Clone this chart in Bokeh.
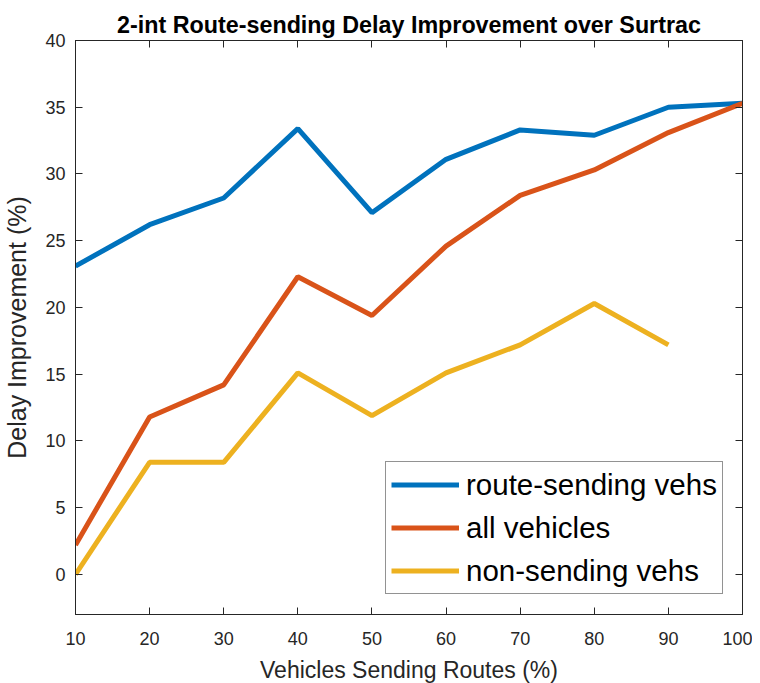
from bokeh.plotting import figure
from bokeh.models import Range1d, LinearAxis, FixedTicker, CustomJSTickFormatter, Legend
from bokeh.embed import file_html
from bokeh.resources import INLINE

x_pct = [10, 20, 30, 40, 50, 60, 70, 80, 90, 100]
route_sending = [23.1, 26.2, 28.2, 33.4, 27.1, 31.1, 33.3, 32.9, 35.0, 35.3]
all_vehicles = [2.2, 11.8, 14.2, 22.3, 19.4, 24.6, 28.4, 30.3, 33.1, 35.3]
x_non = [10, 20, 30, 40, 50, 60, 70, 80, 90]
non_sending = [0.0, 8.4, 8.4, 15.1, 11.9, 15.1, 17.2, 20.3, 17.2]
x_ticks = [10, 20, 30, 40, 50, 60, 70, 80, 90, 100]
y_ticks = [0, 5, 10, 15, 20, 25, 30, 35, 40]

FONT = "Liberation Sans"
GRAY = "#262626"

p = figure(frame_width=667, frame_height=574,
           x_range=Range1d(10, 100), y_range=Range1d(-3, 40),
           output_backend="svg", toolbar_location=None,
           min_border_left=68, min_border_top=40, min_border_right=10, min_border_bottom=55,
           title="2-int Route-sending Delay Improvement over Surtrac")
p.background_fill_color = "white"
p.border_fill_color = "white"
p.grid.visible = False
p.outline_line_color = GRAY
p.outline_line_width = 1

p.title.align = "center"
p.title.text_font = FONT
p.title.text_font_size = "23.3px"
p.title.text_font_style = "bold"
p.title.text_color = "black"
p.title.offset = 0
p.title.standoff = 5

for ax in (p.xaxis[0], p.yaxis[0]):
    ax.major_tick_in = 7
    ax.major_tick_out = 0
    ax.minor_tick_in = 0
    ax.minor_tick_out = 0
    ax.axis_line_color = GRAY
    ax.major_tick_line_color = GRAY
    ax.major_label_text_font = FONT
    ax.major_label_text_font_size = "18px"
    ax.major_label_text_color = GRAY
    ax.axis_label_text_font = FONT
    ax.axis_label_text_font_style = "normal"
    ax.axis_label_text_color = GRAY

p.xaxis[0].ticker = FixedTicker(ticks=x_ticks)
p.yaxis[0].ticker = FixedTicker(ticks=y_ticks)
p.xaxis[0].axis_label = "Vehicles Sending Routes (%)"
p.yaxis[0].axis_label = "Delay Improvement (%)"
p.xaxis[0].axis_label_text_font_size = "23px"
p.yaxis[0].axis_label_text_font_size = "25px"
p.xaxis[0].major_label_standoff = 17
p.yaxis[0].major_label_standoff = 10
p.xaxis[0].axis_label_standoff = 9
p.yaxis[0].axis_label_standoff = 11

blank = CustomJSTickFormatter(code="return ''")
top = LinearAxis(ticker=FixedTicker(ticks=x_ticks), formatter=blank,
                 major_tick_in=7, major_tick_out=0, minor_tick_in=0, minor_tick_out=0,
                 axis_line_color=GRAY, major_tick_line_color=GRAY,
                 major_label_text_font_size="1px", major_label_standoff=0)
right = LinearAxis(ticker=FixedTicker(ticks=y_ticks), formatter=blank,
                   major_tick_in=7, major_tick_out=0, minor_tick_in=0, minor_tick_out=0,
                   axis_line_color=GRAY, major_tick_line_color=GRAY,
                   major_label_text_font_size="1px", major_label_standoff=0)
p.add_layout(top, "above")
p.add_layout(right, "right")

c_blue = "#0072BD"
c_orange = "#D95319"
c_yellow = "#EDB120"
r1 = p.line(x_pct, route_sending, line_color=c_blue, line_width=5)
r2 = p.line(x_pct, all_vehicles, line_color=c_orange, line_width=5)
r3 = p.line(x_non, non_sending, line_color=c_yellow, line_width=5)

legend = Legend(items=[("route-sending vehs", [r1]), ("all vehicles", [r2]), ("non-sending vehs", [r3])],
                location=(310, 20))
legend.label_text_font = FONT
legend.label_text_font_size = "29.5px"
legend.label_text_color = "black"
legend.glyph_width = 68
legend.glyph_height = 35
legend.label_height = 35
legend.label_standoff = 7
legend.spacing = 8
legend.padding = 5
legend.margin = 0
legend.border_line_color = GRAY
legend.border_line_width = 1
legend.background_fill_color = "white"
p.add_layout(legend, "center")

open("out.html", "w").write(file_html(p, INLINE))
